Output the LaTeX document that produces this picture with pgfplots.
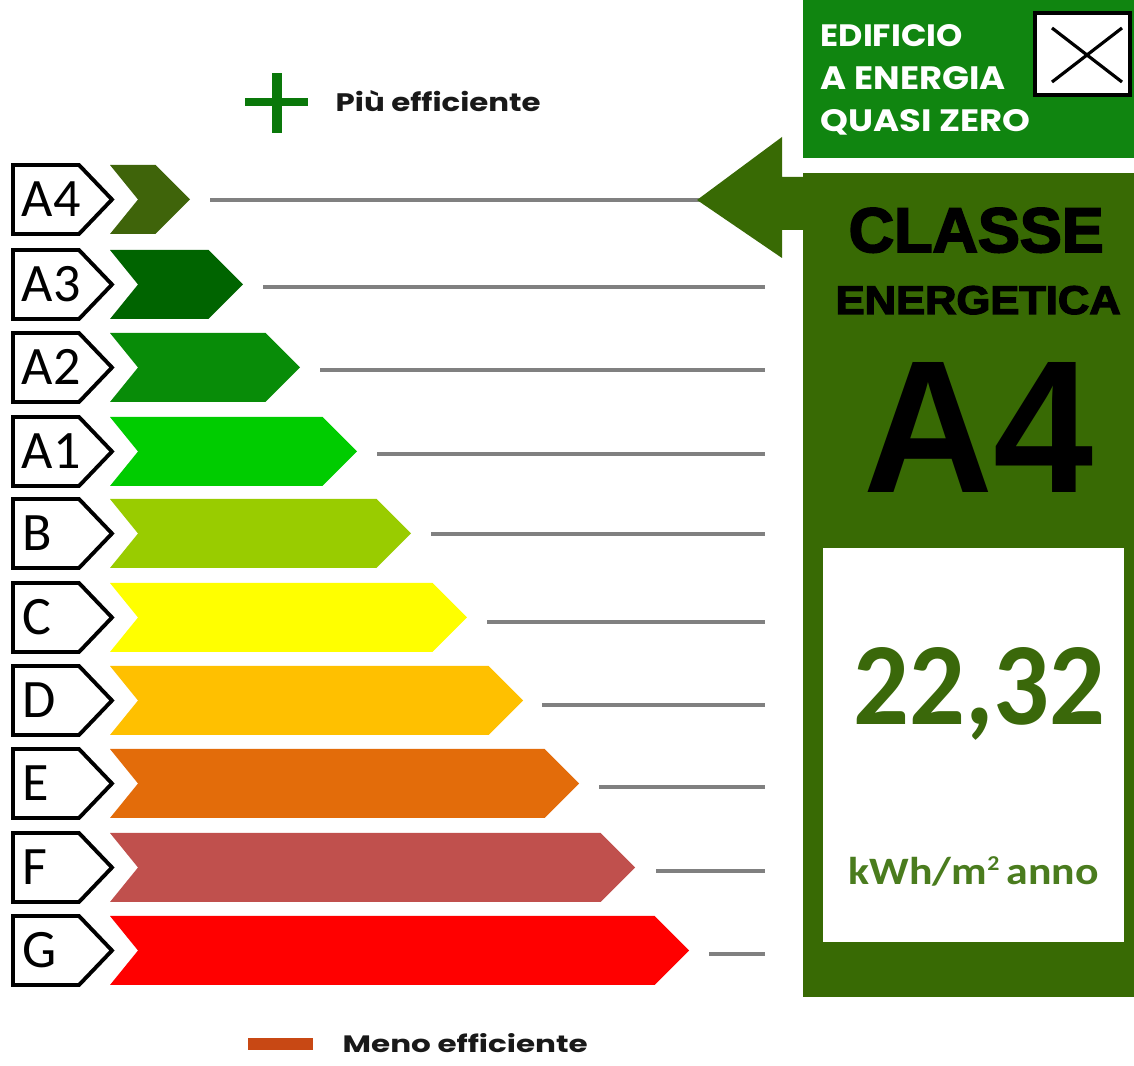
\documentclass[border=0pt]{standalone}
\usepackage{pgfplots}
\pgfplotsset{compat=1.18}
\usepackage{fontspec}
\setmainfont{Liberation Sans}
\newfontfamily\carlito{Carlito}
\newfontfamily\libsans{Liberation Sans}
\newfontfamily\heavy[BoldFeatures={FakeBold=3}]{Liberation Sans}
\newfontfamily\popp{Poppins}
\newlength\px
\setlength\px{0.1mm}
\definecolor{cA4}{RGB}{63,100,10}
\definecolor{cA3}{RGB}{0,100,0}
\definecolor{cA2}{RGB}{8,140,8}
\definecolor{cA1}{RGB}{0,204,0}
\definecolor{cB}{RGB}{153,204,0}
\definecolor{cC}{RGB}{255,255,0}
\definecolor{cD}{RGB}{255,192,0}
\definecolor{cE}{RGB}{227,108,10}
\definecolor{cF}{RGB}{192,80,77}
\definecolor{cG}{RGB}{255,0,0}
\definecolor{topgreen}{RGB}{16,133,16}
\definecolor{panel}{RGB}{56,106,4}
\definecolor{numgreen}{RGB}{58,104,10}
\definecolor{unitgreen}{RGB}{74,124,30}
\definecolor{plusgreen}{RGB}{10,120,10}
\definecolor{orangebar}{RGB}{200,72,20}
\definecolor{linegray}{RGB}{128,128,128}
\begin{document}
\begin{tikzpicture}
\begin{axis}[width=113.4mm,height=106.6mm,scale only axis,
  xmin=0,xmax=1134,ymin=0,ymax=1066,y dir=reverse,hide axis,clip=false]
% background
\addplot[fill=white,draw=none] coordinates {(0,0)(1134,0)(1134,1066)(0,1066)} -- cycle;
% ---- bars
\addplot[fill=cA4,draw=none] coordinates {(110,165)(155.5,165)(190,199.5)(155.5,234)(110,234)(138,199.5)} -- cycle;
\addplot[fill=cA3,draw=none] coordinates {(110,250)(208.5,250)(243,284.5)(208.5,319)(110,319)(138,284.5)} -- cycle;
\addplot[fill=cA2,draw=none] coordinates {(110,333)(265.5,333)(300,367.5)(265.5,402)(110,402)(138,367.5)} -- cycle;
\addplot[fill=cA1,draw=none] coordinates {(110,417)(322.5,417)(357,451.5)(322.5,486)(110,486)(138,451.5)} -- cycle;
\addplot[fill=cB,draw=none] coordinates {(110,499)(376.5,499)(411,533.5)(376.5,568)(110,568)(138,533.5)} -- cycle;
\addplot[fill=cC,draw=none] coordinates {(110,583)(432.5,583)(467,617.5)(432.5,652)(110,652)(138,617.5)} -- cycle;
\addplot[fill=cD,draw=none] coordinates {(110,666)(488.5,666)(523,700.5)(488.5,735)(110,735)(138,700.5)} -- cycle;
\addplot[fill=cE,draw=none] coordinates {(110,749)(544.5,749)(579,783.5)(544.5,818)(110,818)(138,783.5)} -- cycle;
\addplot[fill=cF,draw=none] coordinates {(110,833)(600.5,833)(635,867.5)(600.5,902)(110,902)(138,867.5)} -- cycle;
\addplot[fill=cG,draw=none] coordinates {(110,916)(654.5,916)(689,950.5)(654.5,985)(110,985)(138,950.5)} -- cycle;
% ---- label boxes
\pgfplotsset{every axis plot/.append style={line join=miter}}
\addplot[draw=black,line width=1.1pt,fill=white] coordinates {(13,165)(79,165)(112,199.5)(79,234)(13,234)} -- cycle;
\addplot[draw=black,line width=1.1pt,fill=white] coordinates {(13,250)(79,250)(112,284.5)(79,319)(13,319)} -- cycle;
\addplot[draw=black,line width=1.1pt,fill=white] coordinates {(13,333)(79,333)(112,367.5)(79,402)(13,402)} -- cycle;
\addplot[draw=black,line width=1.1pt,fill=white] coordinates {(13,417)(79,417)(112,451.5)(79,486)(13,486)} -- cycle;
\addplot[draw=black,line width=1.1pt,fill=white] coordinates {(13,499)(79,499)(112,533.5)(79,568)(13,568)} -- cycle;
\addplot[draw=black,line width=1.1pt,fill=white] coordinates {(13,583)(79,583)(112,617.5)(79,652)(13,652)} -- cycle;
\addplot[draw=black,line width=1.1pt,fill=white] coordinates {(13,666)(79,666)(112,700.5)(79,735)(13,735)} -- cycle;
\addplot[draw=black,line width=1.1pt,fill=white] coordinates {(13,749)(79,749)(112,783.5)(79,818)(13,818)} -- cycle;
\addplot[draw=black,line width=1.1pt,fill=white] coordinates {(13,833)(79,833)(112,867.5)(79,902)(13,902)} -- cycle;
\addplot[draw=black,line width=1.1pt,fill=white] coordinates {(13,916)(79,916)(112,950.5)(79,985)(13,985)} -- cycle;
% ---- gray lines
\addplot[draw=linegray,line width=1.1pt] coordinates {(210,200)(700,200)};
\addplot[draw=linegray,line width=1.1pt] coordinates {(263,287)(765,287)};
\addplot[draw=linegray,line width=1.1pt] coordinates {(320,370)(765,370)};
\addplot[draw=linegray,line width=1.1pt] coordinates {(377,454)(765,454)};
\addplot[draw=linegray,line width=1.1pt] coordinates {(431,534)(765,534)};
\addplot[draw=linegray,line width=1.1pt] coordinates {(487,622)(765,622)};
\addplot[draw=linegray,line width=1.1pt] coordinates {(542,705)(765,705)};
\addplot[draw=linegray,line width=1.1pt] coordinates {(599,787)(765,787)};
\addplot[draw=linegray,line width=1.1pt] coordinates {(656,871)(765,871)};
\addplot[draw=linegray,line width=1.1pt] coordinates {(709,954)(765,954)};
% ---- label text
\begin{scope}[every node/.style={anchor=base west,inner sep=0pt,font=\carlito\fontsize{15.4pt}{16pt}\selectfont}]
\node at (axis cs:21,217) {A4};
\node at (axis cs:21,302) {A3};
\node at (axis cs:21,385) {A2};
\node at (axis cs:21,469) {A1};
\node at (axis cs:22,551) {B};
\node at (axis cs:22,635) {C};
\node at (axis cs:22,718) {D};
\node at (axis cs:22,801) {E};
\node at (axis cs:22,885) {F};
\node at (axis cs:22,968) {G};
\end{scope}
% ---- plus / minus markers
\addplot[fill=plusgreen,draw=none] coordinates {(245,98)(308,98)(308,106)(245,106)} -- cycle;
\addplot[fill=plusgreen,draw=none] coordinates {(272,73)(282,73)(282,133)(272,133)} -- cycle;
\addplot[fill=orangebar,draw=none] coordinates {(248,1038)(313,1038)(313,1050)(248,1050)} -- cycle;
\node[anchor=base west,inner sep=0pt,text=black!90] at (axis cs:335,112) {\resizebox{205\px}{21\px}{\popp\bfseries Più efficiente}};
\node[anchor=base west,inner sep=0pt,text=black!90] at (axis cs:342,1053) {\resizebox{245\px}{19\px}{\popp\bfseries Meno efficiente}};
% ---- right panel
\addplot[fill=topgreen,draw=none] coordinates {(803,0)(1134,0)(1134,158)(803,158)} -- cycle;
\addplot[fill=white,draw=black,line width=0.9pt] coordinates {(1035,13)(1130,13)(1130,95)(1035,95)} -- cycle;
\addplot[draw=black,line width=0.9pt] coordinates {(1052,28)(1122,82)};
\addplot[draw=black,line width=0.9pt] coordinates {(1052,82)(1122,28)};
\node[anchor=base west,inner sep=0pt,text=white] at (axis cs:820,47) {\resizebox{142\px}{22\px}{\popp\bfseries EDIFICIO}};
\node[anchor=base west,inner sep=0pt,text=white] at (axis cs:820,90) {\resizebox{185\px}{23\px}{\popp\bfseries A ENERGIA}};
\node[anchor=base west,inner sep=0pt,text=white] at (axis cs:820,132) {\resizebox{210\px}{22\px}{\popp\bfseries QUASI ZERO}};
\addplot[fill=panel,draw=none] coordinates {(803,173)(1134,173)(1134,997)(803,997)} -- cycle;
\addplot[fill=panel,draw=none] coordinates {(697,200)(782,137)(782,177)(806,177)(806,230)(782,230)(782,258)} -- cycle;
\node[anchor=base west,inner sep=0pt,text=black] at (axis cs:848,252) {\resizebox{255\px}{44\px}{\heavy\bfseries CLASSE}};
\node[anchor=base west,inner sep=0pt,text=black] at (axis cs:835,314) {\resizebox{285\px}{28\px}{\heavy\bfseries ENERGETICA}};
\node[anchor=base west,inner sep=0pt,text=black] at (axis cs:863,493) {\resizebox{230\px}{130\px}{\libsans\bfseries A4}};
\addplot[fill=white,draw=none] coordinates {(823,548)(1124,548)(1124,942)(823,942)} -- cycle;
\node[anchor=base west,inner sep=0pt,text=numgreen] at (axis cs:853,725) {\resizebox{252\px}{77\px}{\carlito\bfseries 22,32}};
\node[anchor=base west,inner sep=0pt,text=unitgreen] at (axis cs:848,885) {\resizebox{250\px}{28\px}{\carlito\bfseries\fontsize{11pt}{12pt}\selectfont kWh/m\raisebox{4pt}{\fontsize{6pt}{6pt}\selectfont 2}\,anno}};
\end{axis}
\end{tikzpicture}
\end{document}
